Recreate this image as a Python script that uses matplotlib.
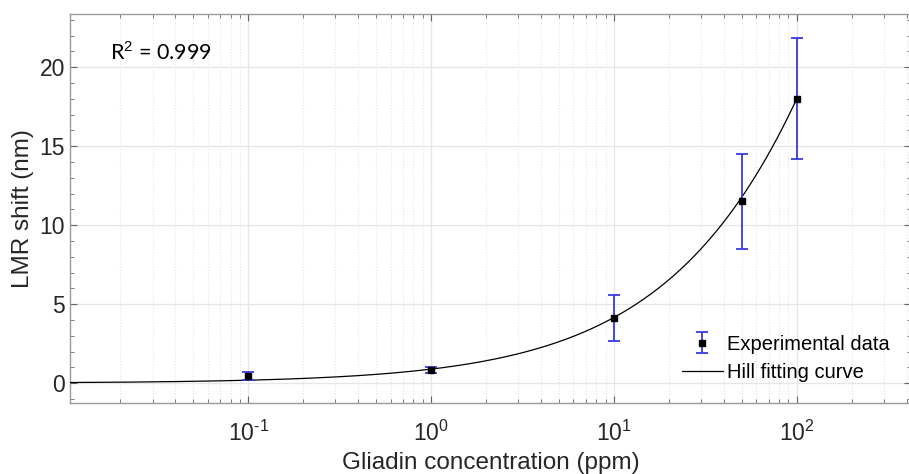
import numpy as np
import matplotlib
matplotlib.use("Agg")
import matplotlib.pyplot as plt
from matplotlib.ticker import LogLocator, MultipleLocator, FixedLocator, NullFormatter

plt.rcParams['font.family'] = ['Liberation Sans', 'DejaVu Sans']
plt.rcParams['mathtext.fontset'] = 'custom'
plt.rcParams['mathtext.rm'] = 'Liberation Sans'
plt.rcParams['mathtext.it'] = 'Liberation Sans:italic'
plt.rcParams['axes.unicode_minus'] = False

# Data
conc = [0.1, 1, 10, 50, 100]            # ppm
shift = [0.44, 0.83, 4.13, 11.52, 18.0]  # nm
err = [0.26, 0.2, 1.45, 3.0, 3.83]       # nm
xtick_vals = [0.1, 1, 10, 100]
xtick_labels = [r'$10^{\text{-1}}$', r'$10^{0}$', r'$10^{1}$', r'$10^{2}$']

# Hill fit parameters (estimated)
hill_vmax = 150.0
hill_n = 0.68
hill_k = 1870.0

xlim = (0.0106, 420)
ylim = (-1.25, 23.4)

fig = plt.figure(figsize=(9.09, 4.74), dpi=100)
ax = fig.add_axes([0.077, 0.15, 0.925, 0.8215])

xc = np.logspace(np.log10(xlim[0]), np.log10(100), 400)
yc = hill_vmax * xc**hill_n / (hill_k**hill_n + xc**hill_n)

line, = ax.plot(xc, yc, color='black', lw=0.9, zorder=3, label='Hill fitting curve')
eb = ax.errorbar(conc, shift, yerr=err, fmt='s', color='black', ms=5,
                 ecolor='#3a3ae0', elinewidth=1.3, capsize=4, capthick=1.3,
                 zorder=4, label='Experimental data')

ax.set_xscale('log')
ax.set_xlim(*xlim)
ax.set_ylim(*ylim)
ax.xaxis.set_major_locator(FixedLocator(xtick_vals))
ax.set_xticklabels(xtick_labels)
ax.xaxis.set_minor_locator(LogLocator(base=10, subs=np.arange(2, 10), numticks=20))
ax.xaxis.set_minor_formatter(NullFormatter())
ax.yaxis.set_major_locator(MultipleLocator(5))
ax.yaxis.set_minor_locator(MultipleLocator(1))

ax.grid(True, which='major', axis='both', color='#e6e6e6', lw=0.9, ls='-', zorder=0)
ax.grid(True, which='minor', axis='x', color='#e6e6e6', lw=0.8, ls=':', zorder=0)
ax.set_axisbelow(True)

for s in ax.spines.values():
    s.set_color('#999999')
    s.set_linewidth(1.0)
ax.tick_params(which='both', direction='in', top=True, right=True, colors='#666666',
               labelcolor='#262626', labelsize=16.5)
ax.tick_params(which='major', length=5)
ax.tick_params(which='minor', length=3)
ax.tick_params(axis='x', pad=13)

ax.set_xlabel('Gliadin concentration (ppm)', fontsize=17.5, color='#262626', labelpad=4)
ax.set_ylabel('LMR shift (nm)', fontsize=17.5, color='#262626', labelpad=4)

ax.text(0.048, 20.9, r'R$^2$ = 0.999', fontsize=15.5, family=['Lato', 'DejaVu Sans'],
        ha='left', va='center', color='black', transform=ax.get_yaxis_transform())

leg = ax.legend(handles=[eb, line], loc='lower right', bbox_to_anchor=(0.996, 0.008),
                frameon=False, fontsize=14.5, handlelength=2.0, handletextpad=0.2,
                labelspacing=0.45)

fig.savefig('out.png', dpi=100)
